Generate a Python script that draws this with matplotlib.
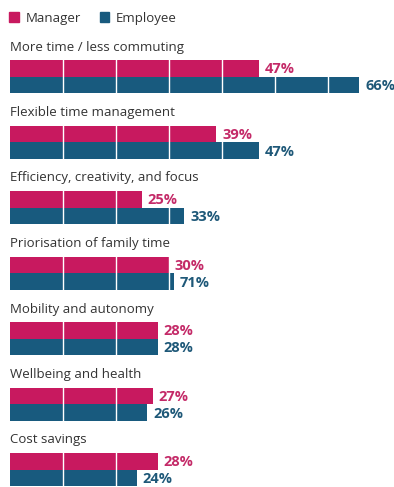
import matplotlib
matplotlib.use("Agg")
import matplotlib.pyplot as plt
from matplotlib.patches import Patch

plt.rcParams['font.family'] = ['Open Sans', 'DejaVu Sans']

categories = ["More time / less commuting", "Flexible time management",
              "Efficiency, creativity, and focus", "Priorisation of family time",
              "Mobility and autonomy", "Wellbeing and health", "Cost savings"]
manager = [47, 39, 25, 30, 28, 27, 28]
# employee bar lengths as drawn (the family-time bar is drawn short in the source)
employee = [66, 47, 33, 31, 28, 26, 24]
manager_labels = ["47%", "39%", "25%", "30%", "28%", "27%", "28%"]
employee_labels = ["66%", "47%", "33%", "71%", "28%", "26%", "24%"]
grid_ticks = [10, 20, 30, 40, 50, 60]

pink = "#C8195F"
blue = "#185A7E"
pink_txt = "#C42A68"
blue_txt = "#1E5878"
txt = "#333333"

W, H = 394, 487
fig = plt.figure(figsize=(W / 100, H / 100), dpi=100)
ax = fig.add_axes([0, 0, 1, 1])
px = 5.3  # pixels per percent
x0 = 9.5
ax.set_xlim(-x0 / px, (W - x0) / px)
ax.set_ylim(H, 0)
ax.axis("off")

pitch = 65.5
bh = 16.5
for i, cat in enumerate(categories):
    top = 60 + pitch * i
    ym = top + bh / 2
    ye = top + bh * 1.5
    ax.barh(ym, manager[i], height=bh, color=pink, zorder=1)
    ax.barh(ye, employee[i], height=bh, color=blue, zorder=1)
    ax.text(0.1, top - 13, cat, fontsize=9.5, color=txt, va="center", ha="left", zorder=5)
    ax.text(manager[i] + 1.1, ym + 1, manager_labels[i], fontsize=10.5, fontweight="bold",
            color=pink_txt, va="center", ha="left", zorder=5)
    ax.text(employee[i] + 1.1, ye + 1.5, employee_labels[i], fontsize=10.5, fontweight="bold",
            color=blue_txt, va="center", ha="left", zorder=5)

for g in grid_ticks:
    ax.axvline(g, color="white", lw=1.0, zorder=2)

handles = [Patch(color=pink, label="Manager"), Patch(color=blue, label="Employee")]
fig.legend(handles=handles, loc="upper left", bbox_to_anchor=(0.0, 0.995), ncol=2,
           frameon=False, fontsize=9.5, handlelength=0.75, handleheight=0.75,
           handletextpad=0.5, columnspacing=1.4, labelcolor=txt, borderaxespad=0.3)

fig.savefig("out.png", dpi=100, facecolor="white")
